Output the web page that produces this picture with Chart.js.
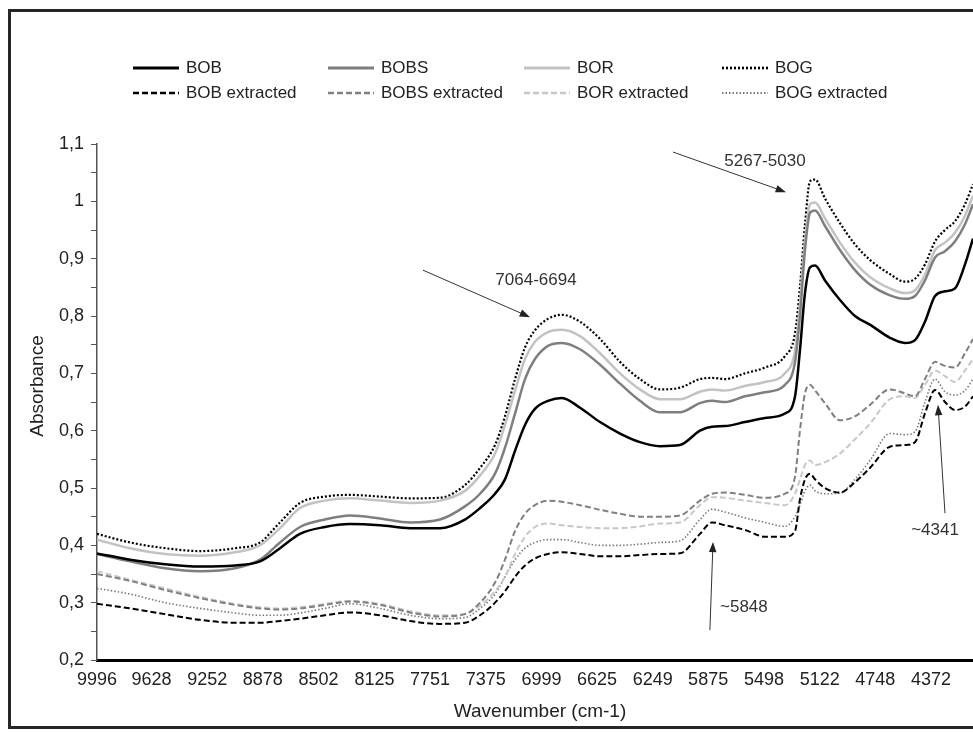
<!DOCTYPE html>
<html>
<head>
<meta charset="utf-8">
<script src="https://cdn.jsdelivr.net/npm/chart.js@4"></script>
<style>
  html, body { margin:0; padding:0; background:#fff; overflow:hidden; }
  body { width:973px; height:740px; position:relative; font-family:"Liberation Sans", Arial, sans-serif; }
  #frame { position:absolute; left:8px; top:9px; width:1200px; height:720px; border:3px solid #262626; box-sizing:border-box; }
  #chart { position:absolute; left:0; top:0; }
  .leg { position:absolute; display:flex; align-items:center; font-size:17px; color:#222; white-space:nowrap; }
  .leg canvas { margin-right:7px; }
</style>
</head>
<body>
<div id="frame"></div>
<canvas id="chart" width="973" height="740"></canvas>
<div id="legend"></div>
<script>
// wavenumber (cm-1) and absorbance
const wavenumbers = [9996, 9773, 9537, 9301, 9065, 8897, 8762, 8627, 8459, 8290, 8088, 7885, 7683, 7515, 7413, 7312, 7245, 7177, 7110, 7043, 6955, 6861, 6739, 6604, 6469, 6335, 6200, 6065, 5930, 5849, 5761, 5627, 5492, 5357, 5289, 5256, 5222, 5188, 5154, 5087, 4986, 4885, 4784, 4649, 4548, 4480, 4413, 4345, 4278, 4211, 4143, 4089];

const bob  = [0.386, 0.375, 0.367, 0.363, 0.365, 0.372, 0.395, 0.420, 0.432, 0.437, 0.435, 0.430, 0.430, 0.445, 0.465, 0.490, 0.515, 0.565, 0.610, 0.638, 0.652, 0.657, 0.640, 0.615, 0.595, 0.580, 0.573, 0.575, 0.600, 0.607, 0.608, 0.615, 0.622, 0.630, 0.660, 0.740, 0.840, 0.885, 0.888, 0.862, 0.828, 0.800, 0.785, 0.762, 0.753, 0.758, 0.790, 0.835, 0.843, 0.848, 0.890, 0.935];
const bobs = [0.385, 0.372, 0.360, 0.355, 0.360, 0.375, 0.405, 0.432, 0.445, 0.452, 0.447, 0.440, 0.445, 0.468, 0.490, 0.525, 0.570, 0.630, 0.690, 0.725, 0.748, 0.753, 0.742, 0.715, 0.682, 0.652, 0.632, 0.632, 0.648, 0.652, 0.650, 0.660, 0.667, 0.680, 0.720, 0.800, 0.915, 0.980, 0.984, 0.957, 0.915, 0.880, 0.855, 0.836, 0.830, 0.835, 0.862, 0.902, 0.913, 0.930, 0.960, 0.995];
const bor  = [0.410, 0.395, 0.385, 0.382, 0.388, 0.400, 0.430, 0.465, 0.478, 0.482, 0.478, 0.474, 0.478, 0.495, 0.522, 0.560, 0.610, 0.670, 0.725, 0.755, 0.772, 0.776, 0.765, 0.735, 0.700, 0.672, 0.655, 0.655, 0.668, 0.672, 0.670, 0.678, 0.685, 0.700, 0.740, 0.820, 0.930, 0.995, 0.998, 0.970, 0.928, 0.893, 0.868, 0.848, 0.840, 0.845, 0.872, 0.915, 0.928, 0.945, 0.975, 1.010];
const bog  = [0.420, 0.405, 0.395, 0.390, 0.395, 0.405, 0.440, 0.474, 0.485, 0.488, 0.485, 0.482, 0.483, 0.505, 0.535, 0.575, 0.625, 0.690, 0.745, 0.775, 0.795, 0.802, 0.790, 0.760, 0.720, 0.690, 0.672, 0.675, 0.690, 0.692, 0.690, 0.700, 0.710, 0.730, 0.770, 0.850, 0.960, 1.035, 1.038, 1.005, 0.962, 0.925, 0.898, 0.873, 0.860, 0.865, 0.890, 0.930, 0.950, 0.965, 0.995, 1.030];

const bobExt  = [0.298, 0.290, 0.280, 0.270, 0.265, 0.265, 0.268, 0.272, 0.278, 0.283, 0.278, 0.268, 0.263, 0.265, 0.278, 0.300, 0.320, 0.345, 0.365, 0.377, 0.385, 0.388, 0.385, 0.381, 0.381, 0.383, 0.385, 0.386, 0.420, 0.440, 0.435, 0.427, 0.415, 0.415, 0.425, 0.480, 0.515, 0.525, 0.515, 0.500, 0.492, 0.510, 0.535, 0.572, 0.575, 0.580, 0.630, 0.671, 0.650, 0.636, 0.642, 0.660];
const bobsExt = [0.350, 0.338, 0.322, 0.308, 0.296, 0.290, 0.288, 0.290, 0.296, 0.302, 0.296, 0.283, 0.276, 0.280, 0.300, 0.335, 0.375, 0.425, 0.455, 0.470, 0.478, 0.476, 0.470, 0.462, 0.455, 0.450, 0.450, 0.452, 0.478, 0.490, 0.492, 0.488, 0.483, 0.490, 0.520, 0.600, 0.665, 0.680, 0.670, 0.648, 0.618, 0.625, 0.645, 0.672, 0.665, 0.660, 0.690, 0.720, 0.713, 0.710, 0.735, 0.760];
const borExt  = [0.355, 0.340, 0.325, 0.310, 0.298, 0.292, 0.290, 0.292, 0.298, 0.303, 0.298, 0.285, 0.278, 0.280, 0.295, 0.320, 0.345, 0.385, 0.415, 0.432, 0.438, 0.435, 0.432, 0.430, 0.430, 0.433, 0.438, 0.440, 0.470, 0.484, 0.483, 0.478, 0.474, 0.470, 0.490, 0.515, 0.540, 0.548, 0.540, 0.545, 0.560, 0.585, 0.612, 0.655, 0.660, 0.657, 0.680, 0.705, 0.695, 0.685, 0.705, 0.725];
const bogExt  = [0.325, 0.315, 0.300, 0.290, 0.282, 0.278, 0.278, 0.282, 0.290, 0.298, 0.290, 0.278, 0.272, 0.274, 0.290, 0.315, 0.345, 0.375, 0.395, 0.405, 0.410, 0.410, 0.405, 0.400, 0.400, 0.402, 0.405, 0.408, 0.445, 0.463, 0.458, 0.448, 0.440, 0.433, 0.450, 0.470, 0.495, 0.505, 0.495, 0.490, 0.491, 0.515, 0.548, 0.595, 0.593, 0.598, 0.650, 0.690, 0.668, 0.662, 0.670, 0.690];

const xTickLabels = [9996, 9628, 9252, 8878, 8502, 8125, 7751, 7375, 6999, 6625, 6249, 5875, 5498, 5122, 4748, 4372];
const yTicks = [0.2, 0.25, 0.3, 0.35, 0.4, 0.45, 0.5, 0.55, 0.6, 0.65, 0.7, 0.75, 0.8, 0.85, 0.9, 0.95, 1.0, 1.05, 1.1];

const xTitle = 'Wavenumber (cm-1)';
const yTitle = 'Absorbance';

// band labels: text, text position, arrow start, arrow tip (data units)
const notes = [
  { text:'7064-6694', at:[7036, 0.863], from:[7798, 0.880], to:[7076, 0.798], align:'center' },
  { text:'5267-5030', at:[5492, 1.069], from:[6112, 1.086], to:[5350, 1.016], align:'center' },
  { text:'~5848',     at:[5795, 0.292], from:[5863, 0.252], to:[5842, 0.406], align:'left' },
  { text:'~4341',     at:[4345, 0.427], from:[4278, 0.456], to:[4325, 0.645], align:'center' }
];

const FONT = '"Liberation Sans", Arial, sans-serif';

function series(label, values, color, width, dash){
  return {
    label,
    data: wavenumbers.map((w, i) => ({ x: w, y: values[i] })),
    borderColor: color,
    borderWidth: width,
    borderDash: dash,
    pointRadius: 0,
    fill: false,
    cubicInterpolationMode: 'monotone'
  };
}

const datasets = [
  series('BOB', bob, '#000000', 2.5, []),
  series('BOBS', bobs, '#7f7f7f', 2.5, []),
  series('BOR', bor, '#c3c3c3', 2.5, []),
  series('BOG', bog, '#000000', 2.2, [2, 2]),
  series('BOB extracted', bobExt, '#000000', 2, [6, 3]),
  series('BOBS extracted', bobsExt, '#808080', 2, [6, 3]),
  series('BOR extracted', borExt, '#c8c8c8', 2, [6, 3]),
  series('BOG extracted', bogExt, '#7a7a7a', 1.6, [1.5, 2])
];

const notesPlugin = {
  id: 'notes',
  afterDatasetsDraw(chart){
    const ctx = chart.ctx, xs = chart.scales.x, ys = chart.scales.y;
    ctx.save();
    notes.forEach(n => {
      const x1 = xs.getPixelForValue(n.from[0]), y1 = ys.getPixelForValue(n.from[1]);
      const x2 = xs.getPixelForValue(n.to[0]),   y2 = ys.getPixelForValue(n.to[1]);
      const ang = Math.atan2(y2 - y1, x2 - x1);
      ctx.strokeStyle = '#333'; ctx.fillStyle = '#222'; ctx.lineWidth = 1;
      ctx.beginPath();
      ctx.moveTo(x1, y1);
      ctx.lineTo(x2 - 6 * Math.cos(ang), y2 - 6 * Math.sin(ang));
      ctx.stroke();
      // arrow head
      ctx.beginPath();
      ctx.moveTo(x2, y2);
      ctx.lineTo(x2 - 11 * Math.cos(ang - 0.35), y2 - 11 * Math.sin(ang - 0.35));
      ctx.lineTo(x2 - 11 * Math.cos(ang + 0.35), y2 - 11 * Math.sin(ang + 0.35));
      ctx.closePath();
      ctx.fill();
      ctx.font = '17px ' + FONT;
      ctx.fillStyle = '#333';
      ctx.textAlign = n.align;
      ctx.textBaseline = 'middle';
      ctx.fillText(n.text, xs.getPixelForValue(n.at[0]), ys.getPixelForValue(n.at[1]));
    });
    ctx.restore();
  },
  // axis titles, placed like the Excel original (not centred on the plot)
  afterDraw(chart){
    const ctx = chart.ctx;
    ctx.save();
    ctx.font = '19px ' + FONT;
    ctx.fillStyle = '#222';
    ctx.textAlign = 'center';
    ctx.textBaseline = 'middle';
    ctx.fillText(xTitle, 540, 712);
    ctx.translate(38, 386);
    ctx.rotate(-Math.PI / 2);
    ctx.fillText(yTitle, 0, 0);
    ctx.restore();
  }
};

function yLabel(v){
  const k = Math.round(v * 100);
  if (k % 10 !== 0) return '';
  return String(k / 100).replace('.', ',');
}

const chart = new Chart(document.getElementById('chart'), {
  type: 'line',
  data: { datasets },
  plugins: [notesPlugin],
  options: {
    responsive: false,
    animation: false,
    layout: { padding: { top: 144, left: 0, right: 0, bottom: 0 } },
    plugins: { legend: { display: false }, tooltip: { enabled: false } },
    scales: {
      x: {
        type: 'linear',
        reverse: true,
        min: 4089,
        max: 9996,
        afterBuildTicks: s => { s.ticks = xTickLabels.map(v => ({ value: v })); },
        afterFit: s => { s.height = 80; },
        grid: { drawOnChartArea: false, drawTicks: false },
        border: { color: '#000', width: 3 },
        ticks: { autoSkip: false, maxRotation: 0, padding: 9, color: '#222', font: { family: FONT, size: 18 }, callback: v => String(v) }
      },
      y: {
        min: 0.2,
        max: 1.1,
        afterBuildTicks: s => { s.ticks = yTicks.map(v => ({ value: v })); },
        afterFit: s => { s.width = 97; },
        grid: { drawOnChartArea: false, tickLength: 6, color: '#555', tickColor: '#555' },
        border: { color: '#555', width: 1.5 },
        ticks: { autoSkip: false, padding: 7, color: '#222', font: { family: FONT, size: 18 }, callback: v => yLabel(v) }
      }
    }
  }
});

// legend laid out as 4 columns x 2 rows like the original
function buildLegend(){
  const cols = [133, 328, 524, 722];
  const rows = [68, 93];
  const box = document.getElementById('legend');
  chart.data.datasets.forEach((d, i) => {
    const item = document.createElement('div');
    item.className = 'leg';
    item.style.left = cols[i % 4] + 'px';
    item.style.top = (rows[Math.floor(i / 4)] - 10) + 'px';
    item.style.height = '20px';
    const c = document.createElement('canvas');
    c.width = 46; c.height = 10;
    const g = c.getContext('2d');
    g.strokeStyle = d.borderColor;
    g.lineWidth = d.borderWidth + 0.5;
    g.setLineDash(d.borderDash);
    g.beginPath(); g.moveTo(0, 5); g.lineTo(46, 5); g.stroke();
    item.appendChild(c);
    const t = document.createElement('span');
    t.textContent = d.label;
    item.appendChild(t);
    box.appendChild(item);
  });
}
buildLegend();
</script>
</body>
</html>
